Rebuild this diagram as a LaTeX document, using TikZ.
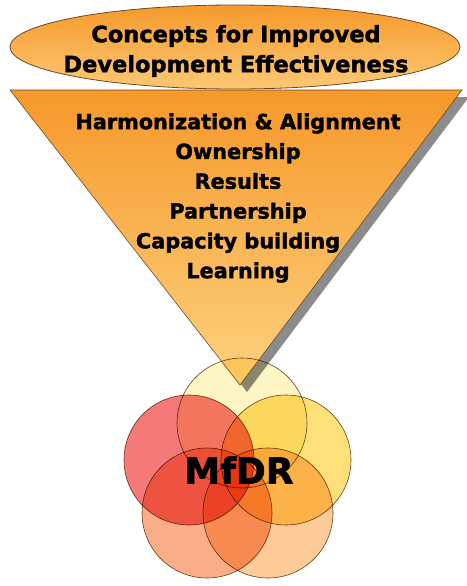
\documentclass[tikz,border=0pt]{standalone}
\usepackage{fontspec}
\setmainfont{DejaVu Sans}[BoldFeatures={FakeBold=1.6}]
\usetikzlibrary{shapes.geometric}

\definecolor{edge}{HTML}{6B4A2A}
\definecolor{orangetop}{HTML}{F69A2C}
\definecolor{orangebot}{HTML}{FCC874}
\definecolor{tritop}{HTML}{F6982A}
\definecolor{trimid}{HTML}{F9B04A}
\definecolor{tribot}{HTML}{FCD27E}
\definecolor{shadowgrey}{HTML}{8C8C8C}
\definecolor{cTop}{HTML}{FDF5C4}
\definecolor{cLeft}{HTML}{F47A7A}
\definecolor{cRight}{HTML}{FEE07A}
\definecolor{cBotL}{HTML}{F9AE88}
\definecolor{cBotR}{HTML}{FCCB98}

\tikzset{
  banner/.style={ellipse, draw=edge, line width=0.8pt, top color=orangetop,
    bottom color=orangebot, minimum width=450pt, minimum height=84pt, inner sep=0pt},
  funnel/.style={draw=edge, line width=0.6pt, top color=tritop, middle color=trimid,
    bottom color=tribot},
  funnelshadow/.style={fill=shadowgrey, draw=none},
  ring/.style={circle, draw=edge, line width=0.6pt, minimum size=130pt,
    inner sep=0pt, blend mode=multiply},
  heading/.style={font=\bfseries\fontsize{22.5}{30}\selectfont, align=center, text=black},
  listtext/.style={font=\bfseries\fontsize{20.8}{29.8}\selectfont, align=center, text=black},
  bigtext/.style={font=\bfseries\fontsize{36}{40}\selectfont, text=black},
}

\begin{document}
\begin{tikzpicture}[x=1pt, y=-1pt]
  \useasboundingbox (0,0) rectangle (466,586);
  \fill[white] (0,0) rectangle (466,586);

  % funnel corners
  \coordinate (tl) at (10,90);
  \coordinate (tr) at (462,90);
  \coordinate (tip) at (240,385);

  % drop shadow, then the funnel itself
  \fill[funnelshadow] ([shift={(7,7)}]tl) -- ([shift={(7,7)}]tr) -- ([shift={(7,7)}]tip) -- cycle;
  \draw[funnel] (tl) -- (tr) -- (tip) -- cycle;

  % heading banner
  \node[banner] (banner) at (235,47) {};
  \node[heading] (title) at (236,51) {Concepts for Improved\\Development Effectiveness};

  % concept list inside the funnel
  \node[listtext] (concepts) at (238,198) {Harmonization \& Alignment\\Ownership\\Results\\Partnership\\Capacity building\\Learning};

  % five overlapping rings, multiplied so overlaps deepen
  \node[ring, fill=cTop]   (rtop)   at (242,423) {};
  \node[ring, fill=cRight] (rright) at (286,460) {};
  \node[ring, fill=cLeft]  (rleft)  at (189,460) {};
  \node[ring, fill=cBotR]  (rbotr)  at (268,513) {};
  \node[ring, fill=cBotL]  (rbotl)  at (207,513) {};

  \node[bigtext] (mfdr) at (239,470) {MfDR};
\end{tikzpicture}
\end{document}
